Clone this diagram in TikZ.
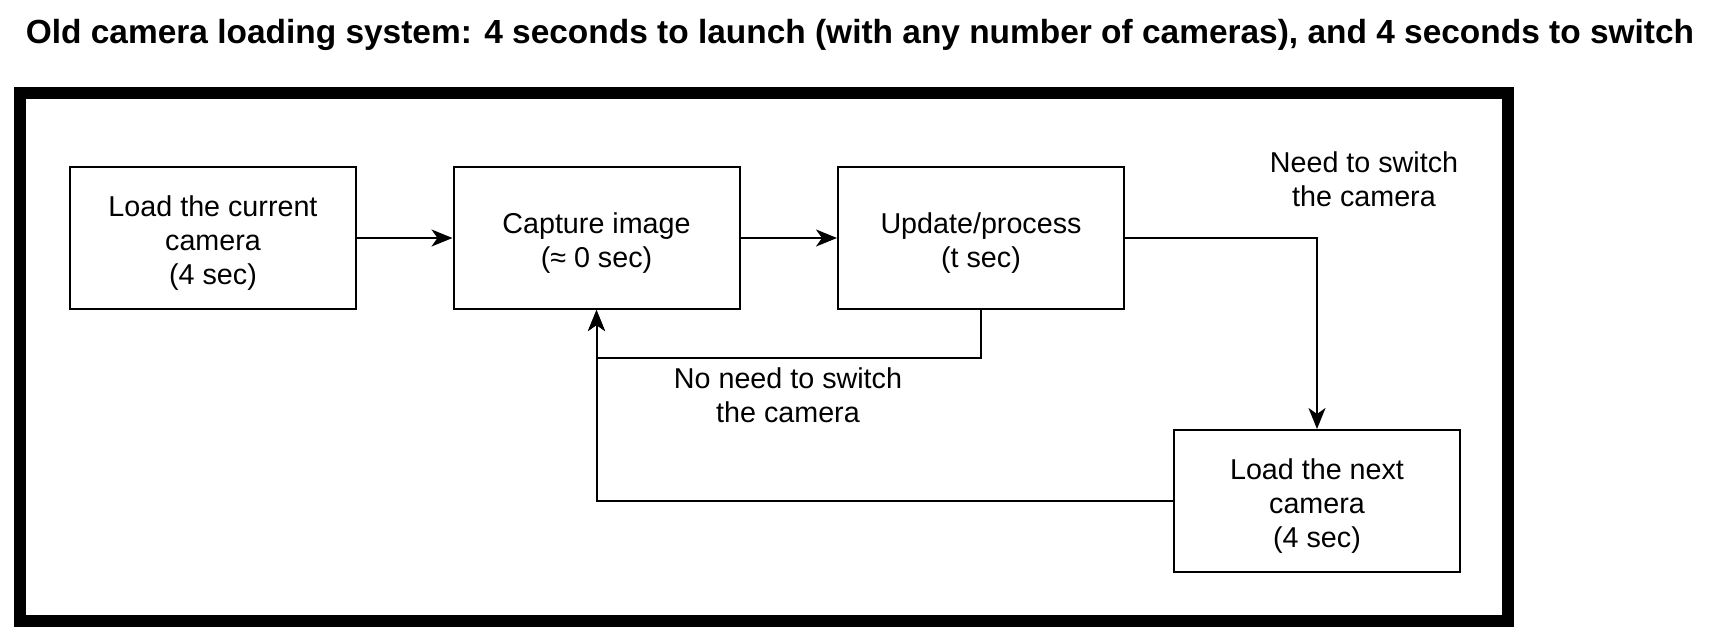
\documentclass[tikz,border=0pt]{standalone}
\usepackage{fontspec}
\setmainfont{Liberation Sans}
\usetikzlibrary{arrows.meta}
\newcommand{\topfix}{\rule{0pt}{31pt}}
\begin{document}
\begin{tikzpicture}[x=1pt,y=-1pt,
  box/.style={draw, line width=2pt, minimum width=286pt, minimum height=142pt, inner sep=0pt, align=center, font=\fontsize{28.7}{34}\selectfont},
  lbl/.style={align=center, inner sep=0pt, font=\fontsize{28.7}{34}\selectfont},
  conn/.style={line width=2pt, -{Stealth[length=21pt,width=17pt,inset=6pt]}}]
\useasboundingbox (0,0) rectangle (1718,638);
\node[inner sep=0pt] (title) at (860,35) {\resizebox{1668pt}{!}{\bfseries Old camera loading system: 4 seconds to launch (with any number of cameras), and 4 seconds to switch}};
\node[draw, line width=12pt, minimum width=1488pt, minimum height=528pt, inner sep=0pt] (frame) at (764,357) {};
\node[box] (b1) at (213,238) {\topfix Load the current\\camera\\(4 sec)};
\node[box] (b2) at (596.5,238) {\topfix Capture image\\(≈ 0 sec)};
\node[box] (b3) at (981,238) {\topfix Update/process\\(t sec)};
\node[box] (b4) at (1317,501) {\topfix Load the next\\camera\\(4 sec)};
\node[lbl] (l1) at (1364,179) {Need to switch\\the camera};
\node[lbl] (l2) at (788,395) {No need to switch\\the camera};
\draw[conn] (b1) -- (b2);
\draw[conn] (b2) -- (b3);
\draw[conn] (b3.east) -| (b4.north);
\draw[conn] (b3.south) -- ++(0,48) -| (b2.south);
\draw[conn] (b4.west) -| (b2.south);
\end{tikzpicture}
\end{document}
